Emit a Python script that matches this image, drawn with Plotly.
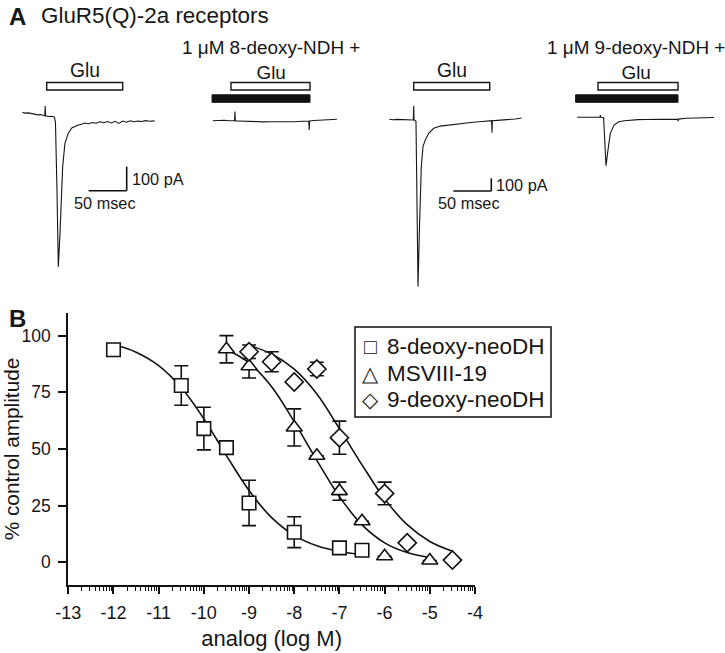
import math
import plotly.graph_objects as go

W, H = 725, 653
FONT = "Liberation Sans"

# ---------------- Panel A data: current traces (time in ms, current in pA) ----------------
T1_MS = [-32, -28, -24, -20, -16, -12, -8, -4, -2.5, -2, -1.5, 2, 6, 10, 11.5, 13.5, 15.3,
         17.5, 21, 24, 28.4, 33, 41.6, 46, 50, 55, 60, 65, 70, 75, 80, 85, 90, 95, 100, 105,
         110, 115, 120, 125, 130, 135, 142]
T1_PA = [19, 16, 17, 13, 12, 9, 10, 6, 5, 46, 5, 2, 3, 0, -20, -300, -624,
         -485, -207, -110, -68, -46, -33, -30, -25, -28, -23, -26, -20, -24, -19, -25, -18, -27, -17, -22,
         -16, -20, -17, -19, -15, -18, -16]

T2_MS = [-23, -18, -13, -8, -3, 0, 4.5, 5, 5.5, 10, 20, 30, 40, 50, 60, 70, 80, 90, 98.5, 99,
         99.5, 105, 115, 125, 134]
T2_PA = [-3, -2, -4, -1, -3, -2, -3, 35, -4, -4, -6, -5, -8, -7, -8, -6, -7, -5, -5, -42,
         -4, -2, 0, 2, 3]

T3_MS = [-32, -27, -22, -17, -12, -7, -2, -0.5, 0, 0.5, 3, 5.7, 7.4, 10, 12.2, 15.3, 19.7, 26.3,
         35, 46, 55, 63.6, 75, 90, 102.5, 103, 103.5, 110, 118, 126, 134, 142]
T3_PA = [6, 2, 5, 3, 4, 1, 2, 0, 110, 0, -10, -1313, -892, -368, -210, -157, -105, -65,
         -48, -39, -32, -26, -20, -12, -5, -100, -6, -3, 0, 4, 8, 16]

T4_MS = [-26, -20, -14, -8, -2, 2.5, 3, 3.5, 7, 10, 12.5, 15.4, 20, 26, 33, 40, 50, 60, 70, 80,
         90, 99.5, 100, 100.5, 110, 125, 145]
T4_PA = [0, -1, 1, 0, -1, 0, 18, 0, -2, -381, -257, -126, -61, -35, -27, -21, -18, -17, -16, -15,
         -14, -14, -30, -14, -8, -4, -2]

GLU_ON_MS, GLU_OFF_MS = 0, 100
DRUG_ON_MS = [-24, -28]
SCALE_MS, SCALE_PA = 50, 100

HEADER = "GluR5(Q)-2a receptors"
BAR_LABEL = "Glu"
DRUG_LABELS = ["1 \u03bcM 8-deoxy-NDH +", "1 \u03bcM 9-deoxy-NDH +"]

# ---------------- Panel B data ----------------
SERIES = ["8-deoxy-neoDH", "MSVIII-19", "9-deoxy-neoDH"]
SERIES_GLYPHS = ["\u25a1", "\u25b3", "\u25c7"]
SQ_X = [-12, -10.5, -10, -9.5, -9, -8, -7, -6.5]
SQ_Y = [93.8, 78.0, 59.0, 50.6, 26.2, 13.3, 6.4, 5.3]
SQ_E = [0, 8.7, 9.4, 0, 10.0, 6.8, 0, 0]

TR_X = [-9.5, -9, -8, -7.5, -7, -6.5, -6, -5]
TR_Y = [94.0, 86.5, 59.5, 47.0, 31.4, 18.1, 2.7, 0.8]
TR_E = [6.0, 5.2, 8.2, 0, 4.0, 0, 0, 0]

DI_X = [-9, -8.5, -8, -7.5, -7, -6, -5.5, -4.5]
DI_Y = [92.9, 88.5, 79.6, 85.3, 55.0, 30.4, 8.6, 1.0]
DI_E = [3.0, 4.4, 0, 3.0, 7.3, 5.0, 0, 0]

# fitted curves
FIT1_X = [-12, -11.5, -11, -10.5, -10, -9.5, -9, -8.5, -8, -7.5, -7, -6.5]
FIT1_Y = [96.2, 92.7, 86.8, 77.1, 63.3, 47.1, 31.7, 19.7, 11.9, 7.3, 4.8, 3.4]
FIT2_X = [-9.5, -9, -8.5, -8, -7.5, -7, -6.5, -6, -5.5, -5]
FIT2_Y = [94.0, 88.0, 77.5, 62.0, 45.0, 29.0, 16.5, 8.6, 4.3, 2.1]
FIT3_X = [-9, -8.5, -8, -7.5, -7, -6.5, -6, -5.5, -5, -4.5]
FIT3_Y = [95.7, 91.9, 85.2, 74.3, 59.0, 43.0, 28.0, 16.6, 9.2, 4.9]

X_TICKS = list(range(-13, -3))
Y_TICKS = [0, 25, 50, 75, 100]
X_TITLE = "analog (log M)"
Y_TITLE = "% control amplitude"

INK = "#161616"


def px_x(p):
    return p / W


def px_y(p):
    return 1 - p / H


def place(ox, oy, sx, sy, x0, x1, y0, y1):
    """domain/range so that t=0 sits at pixel ox, I=0 at pixel oy"""
    dom_x = [px_x(x0), px_x(x1)]
    dom_y = [px_y(y1), px_y(y0)]
    rng_x = [(x0 - ox) / sx, (x1 - ox) / sx]
    rng_y = [(oy - y1) / sy, (oy - y0) / sy]
    return dom_x, rng_x, dom_y, rng_y


def txt(x, y, text, size, xanchor="center", yanchor="middle", bold=False, **kw):
    return dict(x=px_x(x), y=px_y(y), xref="paper", yref="paper",
                text=f"<b>{text}</b>" if bold else text, showarrow=False,
                xanchor=xanchor, yanchor=yanchor,
                font=dict(size=size, color=INK, family=FONT), **kw)


fig = go.Figure()

panels = [
    dict(ox=46.7, oy=117, sx=0.76, sy=0.24, x0=10, x1=180),
    dict(ox=231, oy=120, sx=0.79, sy=0.24, x0=195, x1=355),
    dict(ox=413.7, oy=120, sx=0.76, sy=0.127, x0=380, x1=540),
    dict(ox=598, oy=117.3, sx=0.80, sy=0.127, x0=565, x1=720),
]
traces_A = [(T1_MS, T1_PA), (T2_MS, T2_PA), (T3_MS, T3_PA), (T4_MS, T4_PA)]
label_cx = {1: 85, 2: 271, 3: 451.5, 4: 636}

shapes = []
annotations = []
for i, (p, (tx, ty)) in enumerate(zip(panels, traces_A)):
    k = i + 1
    dx, rx, dy, ry = place(p["ox"], p["oy"], p["sx"], p["sy"], p["x0"], p["x1"], 40, 300)
    fig.update_layout(**{
        f"xaxis{k}": dict(domain=dx, range=rx, visible=False, anchor=f"y{k}"),
        f"yaxis{k}": dict(domain=dy, range=ry, visible=False, anchor=f"x{k}"),
    })
    xa = "x" if k == 1 else f"x{k}"
    ya = "y" if k == 1 else f"y{k}"
    fig.add_trace(go.Scatter(x=tx, y=ty, mode="lines", xaxis=xa, yaxis=ya,
                             line=dict(color=INK, width=1.1), showlegend=False,
                             hoverinfo="skip"))
    shapes.append(dict(type="rect", xref=xa, yref="paper", x0=GLU_ON_MS, x1=GLU_OFF_MS,
                       y0=px_y(90), y1=px_y(82.5), line=dict(color=INK, width=1.4),
                       fillcolor="white"))
    if k in (2, 4):
        shapes.append(dict(type="rect", xref=xa, yref="paper", x0=DRUG_ON_MS[k // 2 - 1],
                           x1=GLU_OFF_MS, y0=px_y(102.3), y1=px_y(94.8),
                           line=dict(color="#111", width=1), fillcolor="#111"))
        annotations.append(txt(label_cx[k], 60.5, DRUG_LABELS[k // 2 - 1] + "<br>" + BAR_LABEL,
                               18.9))
    else:
        annotations.append(txt(label_cx[k], 71, BAR_LABEL, 19.3))

# scale bars (panels 1 and 3)
for k, (bx, by) in ((1, (126.7, 190.7)), (3, (491.3, 191.0))):
    p = panels[k - 1]
    xa = "x" if k == 1 else f"x{k}"
    ya = "y" if k == 1 else f"y{k}"
    t_end = (bx - p["ox"]) / p["sx"]
    i_bot = (p["oy"] - by) / p["sy"]
    shapes.append(dict(type="line", xref=xa, yref=ya, x0=t_end - SCALE_MS, x1=t_end,
                       y0=i_bot, y1=i_bot, line=dict(color="#111", width=1.6)))
    shapes.append(dict(type="line", xref=xa, yref=ya, x0=t_end, x1=t_end,
                       y0=i_bot, y1=i_bot + SCALE_PA, line=dict(color="#111", width=1.6)))
    annotations.append(dict(x=t_end, y=i_bot + SCALE_PA / 2, xref=xa, yref=ya,
                            text=f"{SCALE_PA} pA", showarrow=False, xanchor="left",
                            yanchor="middle", xshift=3,
                            font=dict(size=16.3, color=INK, family=FONT)))
    annotations.append(dict(x=t_end - SCALE_MS / 2 - 3 / p["sx"], y=i_bot, xref=xa, yref=ya,
                            text=f"{SCALE_MS} msec", showarrow=False, xanchor="center",
                            yanchor="top", yshift=-1,
                            font=dict(size=16.3, color=INK, family=FONT)))

annotations.append(txt(7, 16, "A", 24, xanchor="left", bold=True))
annotations.append(txt(39, 15, HEADER, 22.4, xanchor="left"))
annotations.append(txt(8, 318, "B", 24, xanchor="left", bold=True, borderpad=0))

# ---------------- Panel B ----------------
bx0, bx1 = 68.3, 475
by_top, by_bot = 313, 585
minor_vals = [d + math.log10(m) for d in range(-13, -4) for m in range(2, 10)]
fig.update_layout(
    xaxis5=dict(domain=[px_x(bx0), px_x(bx1)], range=[-13, -4], anchor="y5",
                tickmode="array", tickvals=X_TICKS, ticktext=[str(v) for v in X_TICKS],
                ticks="outside", ticklen=6.5, tickwidth=1.6, tickcolor="#111",
                ticklabelstandoff=4,
                showline=True, linewidth=2, linecolor="#111", showgrid=False, zeroline=False,
                minor=dict(tickmode="array", tickvals=minor_vals, ticks="outside", ticklen=3.5,
                           tickwidth=1.2, tickcolor="#111", showgrid=False),
                tickfont=dict(size=18, color=INK, family=FONT),
                title=dict(text=X_TITLE, font=dict(size=22, color=INK, family=FONT),
                           standoff=9),
                automargin=False),
    yaxis5=dict(domain=[px_y(by_bot), px_y(by_top)], range=[-10, 110], anchor="x5",
                tickmode="array", tickvals=Y_TICKS,
                ticks="outside", ticklen=8, tickwidth=1.6, tickcolor="#111",
                ticklabelstandoff=4,
                showline=True, linewidth=2, linecolor="#111", showgrid=False, zeroline=False,
                tickfont=dict(size=17.5, color=INK, family=FONT),
                title=dict(text=Y_TITLE, font=dict(size=20.8, color=INK, family=FONT),
                           standoff=3),
                automargin=False),
)

for fx, fy in ((FIT1_X, FIT1_Y), (FIT2_X, FIT2_Y), (FIT3_X, FIT3_Y)):
    fig.add_trace(go.Scatter(x=fx, y=fy, mode="lines", xaxis="x5", yaxis="y5",
                             line=dict(color="#111", width=1.6, shape="spline", smoothing=1.0),
                             showlegend=False, hoverinfo="skip"))

for name, xs, ys, es, sym, sz in (
        (SERIES[0], SQ_X, SQ_Y, SQ_E, "square", 13.5),
        (SERIES[1], TR_X, TR_Y, TR_E, "triangle-up", 14),
        (SERIES[2], DI_X, DI_Y, DI_E, "diamond", 14)):
    fig.add_trace(go.Scatter(
        x=xs, y=ys, mode="markers", name=name, xaxis="x5", yaxis="y5", showlegend=False,
        error_y=dict(type="data", array=es, visible=True, color="#111", thickness=1.6, width=7),
        marker=dict(symbol=sym, size=sz, color="white", line=dict(color="#111", width=1.6)),
    ))

# boxed key (glyph + label)
shapes.append(dict(type="rect", xref="paper", yref="paper", x0=px_x(355), x1=px_x(551),
                   y0=px_y(417), y1=px_y(327), line=dict(color="#111", width=1.5),
                   fillcolor="white", layer="above"))
for j, (g, name) in enumerate(zip(SERIES_GLYPHS, SERIES)):
    yy = 346 + j * 27
    annotations.append(txt(370, yy, g, 21))
    annotations.append(txt(385, yy, name, 22.5, xanchor="left"))

fig.update_layout(
    width=W, height=H, margin=dict(l=0, r=0, t=0, b=0),
    paper_bgcolor="white", plot_bgcolor="rgba(0,0,0,0)",
    font=dict(family=FONT, color=INK),
    shapes=shapes, annotations=annotations,
    showlegend=False,
)

fig.write_html("out.html", config={"displayModeBar": False},
               post_script="document.body.style.margin='0';document.body.style.padding='0';")
